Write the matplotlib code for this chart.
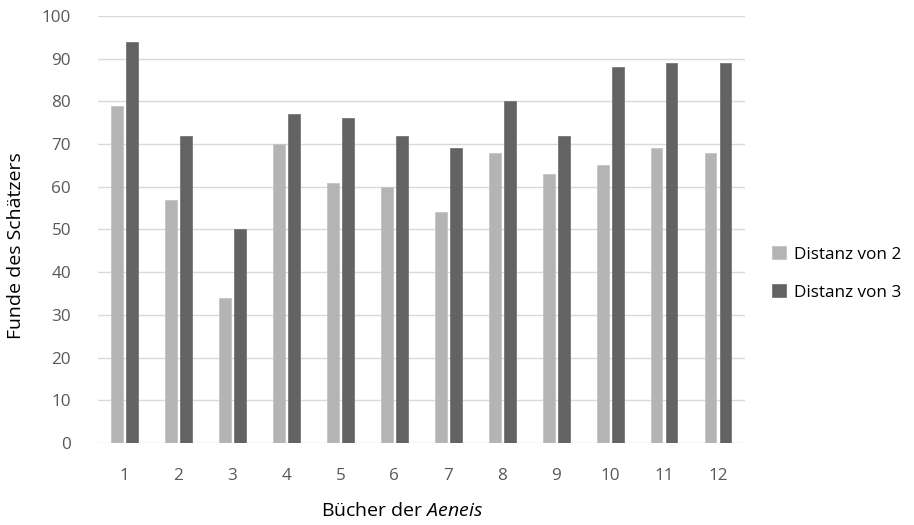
import matplotlib
matplotlib.use("Agg")
import matplotlib.pyplot as plt
import numpy as np

books = ["1", "2", "3", "4", "5", "6", "7", "8", "9", "10", "11", "12"]
dist2 = [79, 57, 34, 70, 61, 60, 54, 68, 63, 65, 69, 68]
dist3 = [94, 72, 50, 77, 76, 72, 69, 80, 72, 88, 89, 89]
series_names = ["Distanz von 2", "Distanz von 3"]
yticks = [0, 10, 20, 30, 40, 50, 60, 70, 80, 90, 100]

plt.rcParams['font.family'] = ['Open Sans', 'DejaVu Sans']
plt.rcParams['mathtext.fontset'] = 'custom'
plt.rcParams['mathtext.rm'] = 'Open Sans'
plt.rcParams['mathtext.it'] = 'Open Sans:italic'

W, H = 914, 525
L, R, T, B = 97.5, 745, 16, 443
fig = plt.figure(figsize=(W/100, H/100), dpi=100)
ax = fig.add_axes([L/W, 1-B/H, (R-L)/W, (B-T)/H])

x = np.arange(len(books))
w = 0.22
off = 0.139
c2 = "#b4b4b4"
c3 = "#636363"
ax.bar(x - off, dist2, width=w, color=c2, edgecolor="#c4c4c4", linewidth=0.6, label=series_names[0], zorder=3)
ax.bar(x + off, dist3, width=w, color=c3, edgecolor="#777777", linewidth=0.6, label=series_names[1], zorder=3)

ax.set_xlim(-0.5, len(books) - 0.5)
ax.set_ylim(0, 100)
ax.set_yticks(yticks)
ax.set_xticks(x)
ax.set_xticklabels(books)
ax.grid(axis='y', color="#d9d9d9", linewidth=1.0, zorder=0)
ax.set_axisbelow(True)
for s in ax.spines.values():
    s.set_visible(False)
ax.tick_params(axis='both', length=0, colors="#595959", labelsize=12.3)
ax.tick_params(axis='y', pad=19)
ax.tick_params(axis='x', pad=18)

ax.set_xlabel(r"Bücher der $\it{Aeneis}$", fontsize=14, color="black")
ax.xaxis.set_label_coords((402.5-L)/(R-L), -(502-B)/(B-T))
ax.set_ylabel("Funde des Schätzers", fontsize=14, color="black")
ax.yaxis.set_label_coords(-(L-25)/(R-L), (B-246)/(B-T))

leg = fig.legend(loc='center left', bbox_to_anchor=(757/W, 1-273.5/H), frameon=False,
                 fontsize=12.3, handlelength=0.8, handleheight=0.8, handletextpad=0.45,
                 labelspacing=1.25)

fig.savefig("out.png", dpi=100)
